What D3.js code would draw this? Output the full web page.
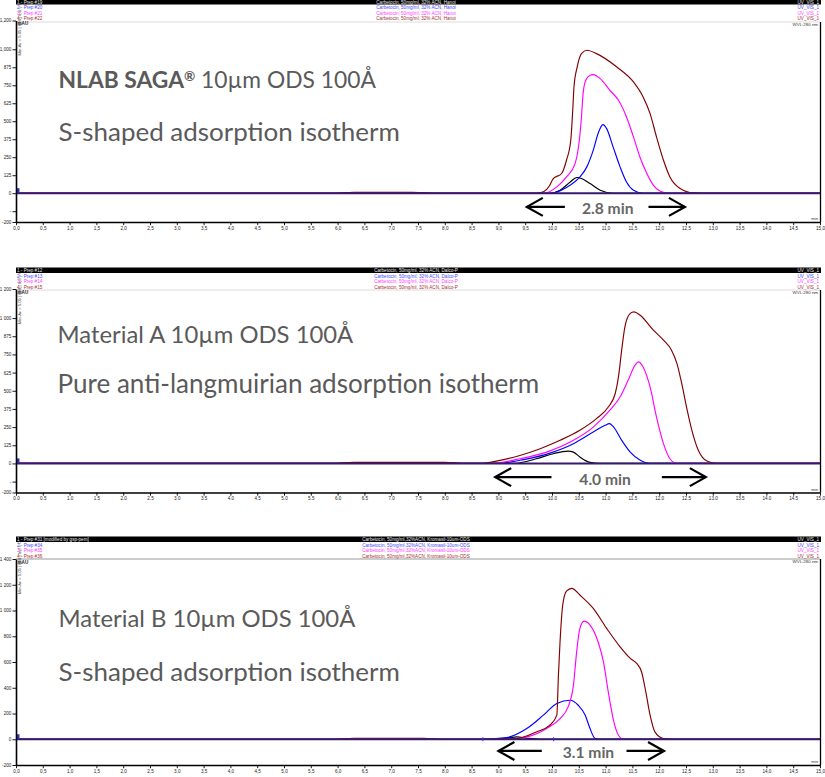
<!DOCTYPE html>
<html><head><meta charset="utf-8">
<script src="https://cdn.jsdelivr.net/npm/d3@7"></script>
<style>body{margin:0;background:#fff}svg{display:block}</style>
</head><body><svg id="c" width="825" height="777"></svg>
<script>
// ---------------- DATA ----------------
const xTicks = [0,0.5,1,1.5,2,2.5,3,3.5,4,4.5,5,5.5,6,6.5,7,7.5,8,8.5,9,9.5,10,10.5,11,11.5,12,12.5,13,13.5,14,14.5,15];
const p1YTicks  = [1200,1000,875,750,625,500,375,250,125,0,-125,-200];
const p1YLabels = ["1,200","1,000","875","750","625","500","375","250","125","0","-","-200"];
const p2YTicks  = [1200,1000,875,750,625,500,375,250,125,0,-125,-200];
const p2YLabels = ["1 200","1 000","875","750","625","500","375","250","125","0","-","-200"];
const p3YTicks  = [1400,1200,1000,800,600,400,200,0,-200];
const p3YLabels = ["1 400","1 200","1 000","800","600","400","200","0","-200"];

const seriesColors = ["#000000","#0000ff","#ff00ff","#800000"];

// Panel 1 : NLAB SAGA  (time [min], signal [mAU])
const p1Black = [[0,0],[9.96,0],[10.15,21],[10.34,78],[10.46,109],[10.55,102],[10.71,67],[10.90,21],[11.14,0],[15,0]];
const p1Blue = [[0,0],[9.96,0],[10.27,40],[10.52,113],[10.65,183],[10.77,299],[10.86,415],[10.95,477],[11.02,449],[11.14,322],[11.27,183],[11.39,78],[11.52,21],[11.70,0],[15,0]];
const p1Magenta = [[0,0],[6.0,0],[6.4,4],[7.3,4],[7.8,0],[9.84,0],[10.09,44],[10.27,113],[10.43,206],[10.51,368],[10.55,530],[10.58,692],[10.63,785],[10.71,819],[10.77,824],[10.90,796],[11.08,715],[11.24,646],[11.39,530],[11.52,391],[11.64,252],[11.77,137],[11.89,56],[12.01,16],[12.2,0],[15,0]];
const p1Brown = [[0,0],[5.9,0],[6.3,7],[7.4,7],[7.9,0],[9.71,0],[9.85,12],[9.95,50],[10.02,100],[10.18,137],[10.27,229],[10.35,368],[10.39,599],[10.41,738],[10.47,877],[10.55,970],[10.65,993],[10.83,970],[11.21,877],[11.52,773],[11.70,669],[11.83,553],[11.95,391],[12.08,229],[12.20,113],[12.39,33],[12.64,2],[12.82,0],[15,0]];

// Panel 2 : Material A
const p2Black = [[0,0],[9.28,0],[9.71,32],[10.02,67],[10.30,85],[10.40,78],[10.52,44],[10.71,7],[10.90,0],[15,0]];
const p2Blue = [[0,0],[8.97,0],[9.47,26],[9.96,71],[10.40,136],[10.77,216],[10.99,262],[11.07,274],[11.14,255],[11.30,159],[11.46,78],[11.64,23],[11.83,0],[15,0]];
const p2Magenta = [[0,0],[6.0,0],[6.4,5],[7.9,5],[8.3,0],[8.84,0],[9.40,32],[9.90,78],[10.40,159],[10.77,250],[11.08,366],[11.27,457],[11.42,572],[11.55,676],[11.61,699],[11.70,664],[11.83,526],[11.95,319],[12.08,136],[12.20,32],[12.33,0],[15,0]];
const p2Brown = [[0,0],[5.9,0],[6.3,7],[8.0,7],[8.4,0],[8.66,0],[9.03,21],[9.40,55],[9.78,101],[10.15,159],[10.52,228],[10.83,308],[11.05,388],[11.18,481],[11.24,595],[11.30,779],[11.36,940],[11.46,1032],[11.53,1043],[11.64,1021],[11.89,917],[12.08,848],[12.23,779],[12.33,688],[12.42,550],[12.51,388],[12.61,228],[12.73,90],[12.89,16],[13.07,0],[15,0]];

// Panel 3 : Material B
const p3Black = [[0,0],[8.90,0],[9.22,13],[9.34,18],[9.53,8],[9.78,0],[15,0]];
const p3Blue = [[0,0],[8.66,0],[9.15,13],[9.53,83],[9.84,187],[10.09,278],[10.34,303],[10.49,264],[10.62,187],[10.71,83],[10.80,8],[10.90,0],[15,0]];
const p3Magenta = [[0,0],[9.09,0],[9.53,18],[9.90,83],[10.15,161],[10.30,251],[10.40,420],[10.46,679],[10.52,861],[10.60,918],[10.71,887],[10.86,757],[10.96,601],[11.05,368],[11.14,161],[11.24,31],[11.33,0],[15,0]];
const p3Brown = [[0,0],[5.9,0],[6.3,8],[7.6,8],[8.0,0],[8.90,0],[9.34,5],[9.71,57],[9.96,109],[10.09,187],[10.12,498],[10.15,757],[10.20,1042],[10.27,1151],[10.37,1172],[10.52,1120],[10.77,1016],[11.02,861],[11.27,718],[11.46,628],[11.58,589],[11.67,524],[11.75,368],[11.83,187],[11.92,57],[12.08,5],[12.26,0],[15,0]];
const p3Markers = [8.71, 10.03];

// Legend / header texts
const p1Names = ["1 - Prep #19","2 - Prep #20","3 - Prep #21","4 - Prep #22"];
const p2Names = ["1 - Prep #12","2 - Prep #13","3 - Prep #14","4 - Prep #15"];
const p3Names = ["1 - Prep #31 [modified by gsp-pem]","2 - Prep #34","3 - Prep #35","4 - Prep #36"];
const p1Samples = ["Carbetocin, 50mg/ml, 32% ACN, Hanoi","Carbetocin, 50mg/ml, 32% ACN, Hanoi","Carbetocin, 50mg/ml, 32% ACN, Hanoi","Carbetocin, 50mg/ml, 32% ACN, Hanoi"];
const p2Samples = ["Carbetocin, 50mg/ml, 32% ACN, Dalco-P","Carbetocin, 50mg/ml, 32% ACN, Dalco-P","Carbetocin, 50mg/ml, 32% ACN, Dalco-P","Carbetocin, 50mg/ml, 32% ACN, Dalco-P"];
const p3Samples = ["Carbetocin, 50mg/ml,32%ACN, Kromasil-10um-ODS","Carbetocin, 50mg/ml,32%ACN, Kromasil-10um-ODS","Carbetocin, 50mg/ml,32%ACN, Kromasil-10um-ODS","Carbetocin, 50mg/ml,32%ACN, Kromasil-10um-ODS"];
const channels = ["UV_VIS_1","UV_VIS_1","UV_VIS_1","UV_VIS_1"];

const p1Titles = ["10µm ODS 100Å", "S-shaped adsorption isotherm"];
const p2Titles = ["Material A 10µm ODS 100Å", "Pure anti-langmuirian adsorption isotherm"];
const p3Titles = ["Material B 10µm ODS 100Å", "S-shaped adsorption isotherm"];

// time-span annotations: [left tip, left line end, right line start, right tip], label position, level
const p1Span = {label:"2.8 min", t:[9.53,10.24,11.80,12.48], labelT:11.04, v:-95};
const p2Span = {label:"4.0 min", t:[8.94,9.99,12.05,12.87], labelT:10.99, v:-94};
const p3Span = {label:"3.1 min", t:[9.00,9.81,11.39,12.09], labelT:10.68, v:-91};

// ---------------- LAYOUT ----------------
const svg = d3.select("#c");
const X0 = 16, X1 = 820;
const small = "'Liberation Sans', Arial, sans-serif";
const titleFont = "Lato, 'Noto Sans', sans-serif";

const panels = [
  {barY:-1, grayY:22, grayC:"#dcdcdc", top:20.5, axisY:222, yDomain:[-200,1200], yTicks:p1YTicks, yLabels:p1YLabels, minorStep:25,
   xFmt:d=>d.toFixed(1).replace(".",","), series:[p1Black,p1Blue,p1Magenta,p1Brown], names:p1Names, samples:p1Samples,
   titles:p1Titles, titleY:[88.3,141], titleX:58.5, titleW:[317.5,341.5], brand:true, span:p1Span, markers:[]},
  {barY:267.5, grayY:290, grayC:"#dcdcdc", top:289, axisY:492.5, yDomain:[-200,1200], yTicks:p2YTicks, yLabels:p2YLabels, minorStep:25,
   xFmt:d=>d.toFixed(1), series:[p2Black,p2Blue,p2Magenta,p2Brown], names:p2Names, samples:p2Samples,
   titles:p2Titles, titleY:[343.3,393.3], titleX:57.5, titleW:[296,482], brand:false, span:p2Span, markers:[]},
  {barY:536.5, grayY:559, grayC:"#9a9a9a", top:559, axisY:765, yDomain:[-200,1400], yTicks:p3YTicks, yLabels:p3YLabels, minorStep:40,
   xFmt:d=>d.toFixed(1).replace(".",","), series:[p3Black,p3Blue,p3Magenta,p3Brown], names:p3Names, samples:p3Samples,
   titles:p3Titles, titleY:[627,680.5], titleX:58.5, titleW:[297,341.5], brand:false, span:p3Span, markers:p3Markers}
];

const x = d3.scaleLinear().domain([0,15]).range([X0,X1]);

// scale a text element's font size so its rendered width equals target
function fitWidth(textSel, target){
  const fs = parseFloat(textSel.attr("font-size"));
  const len = textSel.node().getComputedTextLength();
  const nfs = fs*target/len;
  textSel.attr("font-size", nfs);
  return nfs;
}

panels.forEach((P) => {
  const g = svg.append("g");
  const y = d3.scaleLinear().domain(P.yDomain).range([P.axisY, P.top]);

  // header bar + legend texts
  g.append("rect").attr("x",X0).attr("y",P.barY).attr("width",X1-X0+1).attr("height",5.5).attr("fill","#000");
  const hdrColors = ["#e8e8e8","#4646ff","#ff3cff","#a03232"];
  P.names.forEach((n,i)=>{
    const by = P.barY + 4.6 + i*5.5;
    g.append("text").attr("x",X0+1).attr("y",by).attr("font-family",small).attr("font-size",4.6).attr("fill",hdrColors[i]).text(n);
    g.append("text").attr("x",416).attr("y",by).attr("text-anchor","middle").attr("font-family",small).attr("font-size",4.6).attr("fill",hdrColors[i]).text(P.samples[i]);
    g.append("text").attr("x",819).attr("y",by).attr("text-anchor","end").attr("font-family",small).attr("font-size",4.6).attr("fill",hdrColors[i]).text(channels[i]);
  });
  g.append("line").attr("x1",X0).attr("x2",X1).attr("y1",P.grayY).attr("y2",P.grayY).attr("stroke",P.grayC).attr("stroke-width",1);
  g.append("text").attr("x",818).attr("y",P.grayY+3.5).attr("text-anchor","end").attr("font-family",small).attr("font-size",4.4).attr("fill","#333").text("WVL:280 nm");

  // right border
  g.append("line").attr("x1",X1+0.5).attr("x2",X1+0.5).attr("y1",P.grayY).attr("y2",P.axisY).attr("stroke","#000").attr("stroke-width",1.3);

  // curves
  const line = d3.line().x(d=>x(d[0])).y(d=>y(d[1])).curve(d3.curveMonotoneX);
  P.series.forEach((s,i)=>{
    g.append("path").datum(s).attr("d",line).attr("fill","none").attr("stroke",seriesColors[i]).attr("stroke-width",1.15).attr("stroke-linejoin","round");
  });
  // overlaid baseline (all channels at zero)
  g.append("path").datum([[0,0],[15,0]]).attr("d",d3.line().x(d=>x(d[0])).y(d=>y(d[1])))
    .attr("stroke","#381a6e").attr("stroke-width",2.1).attr("fill","none");
  // injection marker
  g.append("rect").attr("x",x(0)).attr("y",y(0)-5).attr("width",3.5).attr("height",5).attr("fill","#3333b8");
  P.markers.forEach(t=>{
    g.append("line").attr("x1",x(t)).attr("x2",x(t)).attr("y1",y(0)-2).attr("y2",y(0)+2).attr("stroke","#3030ff").attr("stroke-width",1);
  });

  // axes
  const xMinor = d3.range(0,15.001,0.1);
  const ax = g.append("g").attr("transform",`translate(0,${P.axisY})`);
  ax.call(d3.axisBottom(x).tickValues(xMinor).tickSize(2).tickSizeOuter(0).tickFormat(""));
  ax.call(d3.axisBottom(x).tickValues(xTicks).tickSize(3.2).tickSizeOuter(0).tickPadding(1.2).tickFormat(P.xFmt));
  ax.selectAll("text").attr("font-family",small).attr("font-size",4.6).attr("fill","#222");
  ax.selectAll(".domain").attr("stroke","#000").attr("stroke-width",1.6);
  ax.selectAll(".tick line").attr("stroke","#000").attr("stroke-width",0.9);

  const yMinor = d3.range(P.yDomain[0], P.yDomain[1]+0.1, P.minorStep);
  const ay = g.append("g").attr("transform",`translate(${X0},0)`);
  ay.call(d3.axisLeft(y).tickValues(yMinor).tickSize(2).tickSizeOuter(0).tickFormat(""));
  ay.call(d3.axisLeft(y).tickValues(P.yTicks).tickSize(3.5).tickSizeOuter(0).tickPadding(1.2).tickFormat((d,i)=>P.yLabels[i]));
  ay.selectAll("text").attr("font-family",small).attr("font-size",4.6).attr("fill","#222");
  ay.selectAll(".domain").attr("stroke","#000").attr("stroke-width",1.6);
  ay.selectAll(".tick line").attr("stroke","#000").attr("stroke-width",0.9);

  g.append("text").attr("x",X0+1.5).attr("y",P.top+4.5).attr("font-family",small).attr("font-size",4.6).attr("font-weight",700).attr("fill","#222").text("mAU");
  g.append("text").attr("transform",`translate(${X0+5},${P.top+35}) rotate(-90)`).attr("font-family",small).attr("font-size",4.2).attr("fill","#444").text("Min-Av = 5.05 | 808 | Ind = 0");
  g.append("text").attr("x",818).attr("y",P.axisY-2).attr("text-anchor","end").attr("font-family",small).attr("font-size",4.2).attr("fill","#333").text("min");

  // titles
  const base = 24;
  const t1 = g.append("text").attr("x",P.titleX).attr("y",P.titleY[0]).attr("font-family",titleFont).attr("font-size",base).attr("fill","#5a5a5a");
  if (P.brand){
    t1.append("tspan").attr("font-weight",700).text("NLAB SAGA");
    t1.append("tspan").attr("font-weight",700).style("font-size","0.6em").attr("dy","-0.55em").text("®");
    t1.append("tspan").attr("dy","0.33em").text(" "+P.titles[0]);
  } else {
    t1.text(P.titles[0]);
  }
  fitWidth(t1, P.titleW[0]);
  const t2 = g.append("text").attr("x",P.titleX).attr("y",P.titleY[1]).attr("font-family",titleFont).attr("font-size",base).attr("fill","#5a5a5a").text(P.titles[1]);
  fitWidth(t2, P.titleW[1]);

  // span annotation with arrows
  const S = P.span, ya = y(S.v);
  const ag = g.append("g").attr("stroke","#000").attr("stroke-width",2.2).attr("fill","none");
  ag.append("line").attr("x1",x(S.t[0])).attr("x2",x(S.t[1])).attr("y1",ya).attr("y2",ya);
  ag.append("polyline").attr("points",[[x(S.t[0])+16,ya-9],[x(S.t[0]),ya],[x(S.t[0])+16,ya+9]].join(" "));
  ag.append("line").attr("x1",x(S.t[2])).attr("x2",x(S.t[3])).attr("y1",ya).attr("y2",ya);
  ag.append("polyline").attr("points",[[x(S.t[3])-16,ya-9],[x(S.t[3]),ya],[x(S.t[3])-16,ya+9]].join(" "));
  const st = g.append("text").attr("x",x(S.labelT)).attr("y",ya+7.5).attr("text-anchor","middle").attr("font-family",titleFont)
    .attr("font-weight",700).attr("font-size",15).attr("fill","#666").text(S.label);
  fitWidth(st, 51.5);
});
</script>
</body></html>
